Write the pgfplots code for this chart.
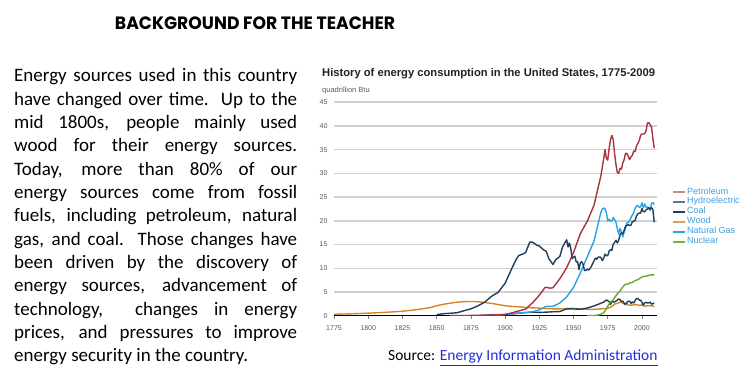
\documentclass[border=0pt]{standalone}
\usepackage{fontspec}
\setmainfont{Carlito}
\newfontfamily\arialfont{Liberation Sans}
\newfontfamily\headfont{Poppins}
\usepackage{graphicx}
\usepackage{pgfplots}
\pgfplotsset{compat=1.18}
\definecolor{petro}{HTML}{A8323E}
\definecolor{coal}{HTML}{1F3D5C}
\definecolor{wood}{HTML}{D4862A}
\definecolor{gas}{HTML}{2AA2E4}
\definecolor{nuc}{HTML}{6AA830}
\definecolor{legtext}{HTML}{3A9EE0}
\definecolor{linkblue}{HTML}{1F2FD8}
\begin{document}
\begin{tikzpicture}
\path[use as bounding box] (0,0) rectangle (743bp,-388bp);
\clip (0,0) rectangle (743bp,-388bp);
% slide heading
\node[inner sep=0pt] at (255bp,-23.7bp) {\resizebox{280bp}{12.7bp}{\headfont\bfseries BACKGROUND FOR THE TEACHER}};
% paragraph
\node[anchor=base west, inner sep=0pt] at (14bp,-81.7bp) {\parbox[t]{283bp}{\fontsize{19bp}{23.33bp}\selectfont
\makebox[283bp][s]{Energy sources used in this country}\\
\makebox[283bp][s]{have changed over time.\ \ Up to the}\\
\makebox[283bp][s]{mid 1800s, people mainly used}\\
\makebox[283bp][s]{wood for their energy sources.}\\
\makebox[283bp][s]{Today, more than 80\% of our}\\
\makebox[283bp][s]{energy sources come from fossil}\\
\makebox[283bp][s]{fuels, including petroleum, natural}\\
\makebox[283bp][s]{gas, and coal. Those changes have}\\
\makebox[283bp][s]{been driven by the discovery of}\\
\makebox[283bp][s]{energy sources, advancement of}\\
\makebox[283bp][s]{technology,\ \ changes in energy}\\
\makebox[283bp][s]{prices, and pressures to improve}\\
energy security in the country.}};
% chart title
\node[anchor=base west, inner sep=0pt, text=black!87] at (322bp,-76.2bp) {\arialfont\bfseries\fontsize{11.2bp}{13bp}\selectfont History of energy consumption in the United States, 1775-2009};
\node[anchor=base west, inner sep=0pt, text=black!65] at (322bp,-92bp) {\arialfont\fontsize{7.5bp}{9bp}\selectfont quadrillion Btu};
% source
\node[anchor=base west, inner sep=0pt] at (388bp,-360.7bp) {\fontsize{15.5bp}{17bp}\selectfont Source: \textcolor{linkblue}{\underline{Energy Information Administration}}};
\begin{axis}[
  at={(334bp,-315.7bp)}, anchor=south west,
  scale only axis, width=323bp, height=213.5bp,
  xmin=1775, xmax=2011, ymin=0, ymax=45,
  axis x line*=bottom, axis y line*=left,
  axis line style={-},
  x axis line style={black, line width=1.1bp, -},
  y axis line style={draw=none},
  xtick={1775,1800,1825,1850,1875,1900,1925,1950,1975,2000},
  ytick={0,5,...,45},
  tick align=outside, major tick length=3bp,
  xtick style={black!50, line width=0.5bp},
  ytick style={draw=none},
  ymajorgrids, grid style={line width=1.5bp, color=black!18},
  /pgf/number format/1000 sep={},
  /pgf/number format/assume math mode=true,
  ticklabel style={font=\arialfont\fontsize{7bp}{8bp}\selectfont, text=black!65},
  xticklabel style={yshift=-3bp},
  legend cell align=left,
  legend style={at={(1.045,0.604)}, anchor=north west, draw=none, fill=none, inner sep=0pt,
    font=\arialfont\fontsize{9bp}{10bp}\selectfont, text=legtext,
    nodes={inner ysep=0.5pt, inner xsep=1.5bp, text height=6.6pt, text depth=2.4pt},
    row sep=0pt},
  legend image code/.code={\draw[#1] (0bp,0bp) -- (12bp,0bp);},
  every axis plot/.append style={line width=1.4bp, line join=round},
]
% Wood
\addplot[wood, forget plot] table {
1775 0.3
1785 0.38
1795 0.48
1805 0.6
1815 0.75
1825 0.95
1835 1.25
1845 1.7
1850 2.1
1855 2.4
1860 2.65
1865 2.85
1870 2.95
1875 3.0
1880 2.95
1885 2.8
1890 2.6
1895 2.35
1900 2.1
1905 1.95
1910 1.88
1915 1.75
1920 1.65
1925 1.6
1930 1.5
1935 1.45
1940 1.45
1945 1.5
1950 1.55
1955 1.45
1960 1.35
1965 1.35
1970 1.45
1975 1.55
1978 1.9
1980 2.45
1982 2.6
1984 2.85
1985 2.8
1987 2.5
1989 2.6
1990 2.2
1993 2.25
1995 2.35
1998 2.2
2000 2.25
2002 2.0
2004 2.1
2006 2.1
2008 2.05
2009 1.9
};
% Hydroelectric
\addplot[coal, forget plot] table {
1890 0.02
1895 0.1
1900 0.25
1905 0.39
1910 0.54
1915 0.66
1920 0.74
1925 0.7
1930 0.75
1935 0.83
1940 0.88
1945 1.44
1950 1.42
1955 1.36
1960 1.61
1965 2.06
1970 2.63
1972 2.86
1974 3.31
1975 3.15
1976 2.98
1977 2.33
1978 2.94
1979 2.93
1980 2.9
1982 3.27
1983 3.53
1984 3.39
1985 2.97
1986 3.07
1987 2.64
1988 2.33
1989 2.84
1990 3.05
1991 3.02
1992 2.62
1993 2.89
1994 2.68
1995 3.2
1996 3.59
1997 3.64
1998 3.3
1999 3.27
2000 2.81
2001 2.24
2002 2.69
2003 2.82
2004 2.69
2005 2.7
2006 2.87
2007 2.45
2008 2.51
2009 2.68
};
% Nuclear
\addplot[nuc, forget plot] table {
1960 0.0
1965 0.04
1968 0.14
1970 0.3
1972 0.6
1974 1.4
1975 2.0
1977 2.9
1979 3.3
1980 3.8
1982 4.6
1984 5.2
1985 5.7
1987 6.4
1988 6.6
1990 6.7
1991 6.9
1993 7.0
1995 7.4
1997 7.6
1999 8.0
2001 8.3
2003 8.3
2005 8.5
2007 8.6
2009 8.6
};
% Natural gas
\addplot[gas, forget plot] table {
1885 0.08
1890 0.26
1895 0.15
1900 0.25
1905 0.37
1910 0.54
1915 0.67
1920 0.83
1925 1.21
1930 1.97
1935 1.97
1940 2.67
1945 3.97
1950 5.97
1955 9.0
1960 12.39
1965 15.77
1970 21.8
1971 22.47
1972 22.7
1973 22.51
1974 21.73
1975 19.95
1976 20.35
1977 19.93
1978 20.0
1979 20.67
1980 20.24
1981 19.74
1982 18.36
1983 17.2
1984 18.39
1985 17.7
1986 16.59
1987 17.63
1988 18.44
1989 19.6
1990 19.6
1991 20.03
1992 20.71
1993 21.23
1994 21.73
1995 22.67
1996 23.09
1997 23.22
1998 22.83
1999 22.91
2000 23.82
2001 22.77
2002 23.56
2003 22.83
2004 22.91
2005 22.56
2006 22.22
2007 23.7
2008 23.84
2009 23.42
};
% Coal
\addplot[coal, forget plot] table {
1850 0.22
1855 0.42
1860 0.52
1865 0.63
1870 1.05
1875 1.44
1880 2.05
1885 2.84
1890 4.06
1895 4.95
1900 6.84
1905 10.0
1908 11.8
1910 12.7
1913 13.0
1915 13.3
1918 15.5
1920 15.5
1923 14.9
1925 14.7
1928 13.9
1930 13.6
1932 12.0
1935 10.8
1937 11.8
1940 12.5
1942 14.5
1945 16.0
1946 14.5
1947 15.3
1948 14.2
1949 12.0
1950 12.35
1951 12.55
1952 11.31
1953 11.37
1954 9.72
1955 11.17
1956 11.35
1957 10.82
1958 9.53
1959 9.52
1960 9.84
1961 9.62
1962 9.91
1963 10.41
1964 10.96
1965 11.58
1966 12.14
1967 11.91
1968 12.33
1969 12.38
1970 12.27
1971 11.6
1972 12.08
1973 12.97
1974 12.66
1975 12.66
1976 13.58
1977 13.92
1978 13.77
1979 15.04
1980 15.42
1981 15.91
1982 15.32
1983 15.89
1984 17.07
1985 17.48
1986 17.26
1987 18.01
1988 18.85
1989 19.07
1990 19.17
1991 18.99
1992 19.12
1993 19.84
1994 19.91
1995 20.09
1996 21.0
1997 21.45
1998 21.66
1999 21.62
2000 22.58
2001 21.91
2002 21.9
2003 22.32
2004 22.47
2005 22.8
2006 22.45
2007 22.75
2008 22.39
2009 19.69
};
% Petroleum
\addplot[petro, forget plot] table {
1860 0.0
1870 0.02
1880 0.1
1890 0.15
1900 0.25
1905 0.6
1910 1.0
1915 1.4
1920 2.7
1925 4.3
1929 5.9
1930 6.0
1933 5.8
1935 5.9
1940 7.8
1945 10.1
1950 13.3
1955 17.3
1960 19.9
1965 23.3
1970 29.5
1972 33.0
1973 35.0
1974 33.2
1975 32.8
1976 35.2
1977 37.1
1978 38.0
1979 37.1
1980 34.2
1981 31.9
1982 30.2
1983 30.0
1984 31.1
1985 30.9
1986 32.2
1987 32.9
1988 34.2
1989 34.2
1990 33.6
1991 32.9
1992 33.5
1993 33.8
1994 34.7
1995 34.6
1996 35.8
1997 36.3
1998 36.9
1999 38.0
2000 38.3
2001 38.3
2002 38.4
2003 39.0
2004 40.6
2005 40.7
2006 40.2
2007 39.8
2008 37.3
2009 35.3
};
\addlegendimage{line width=2bp, color=petro!60}
\addlegendentry{Petroleum}
\addlegendimage{line width=2bp, color=coal!70}
\addlegendentry{Hydroelectric}
\addlegendimage{line width=2bp, color=coal}
\addlegendentry{Coal}
\addlegendimage{line width=2bp, color=wood!80}
\addlegendentry{Wood}
\addlegendimage{line width=2bp, color=gas}
\addlegendentry{Natural Gas}
\addlegendimage{line width=2bp, color=nuc!90}
\addlegendentry{Nuclear}
\end{axis}
\end{tikzpicture}
\end{document}
